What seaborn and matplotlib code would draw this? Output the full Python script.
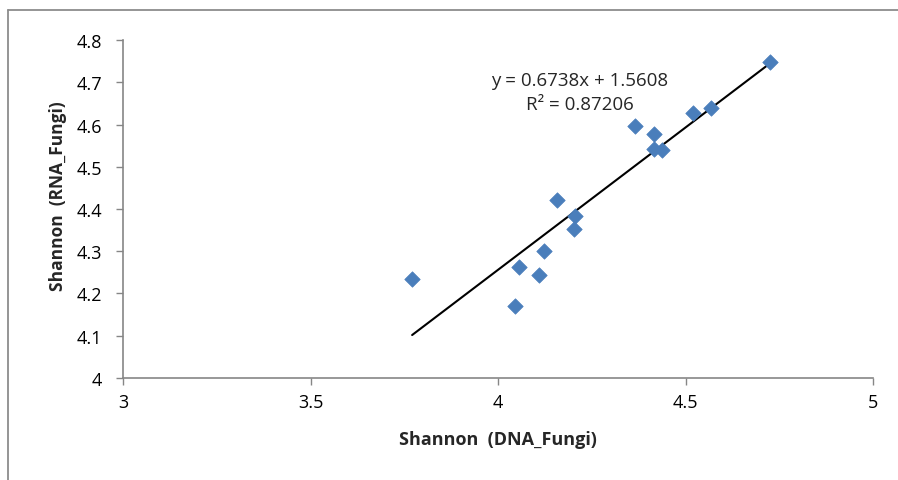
import matplotlib
matplotlib.use("Agg")
import matplotlib.pyplot as plt
import seaborn as sns
import numpy as np
import pandas as pd
from matplotlib.lines import Line2D

# Data
dna_fungi = [4.725, 4.568, 4.520, 4.366, 4.416, 4.416, 4.437, 4.157, 4.205, 4.203,
             4.123, 4.056, 4.109, 4.045, 3.771]
rna_fungi = [4.749, 4.639, 4.627, 4.596, 4.577, 4.542, 4.540, 4.421, 4.383, 4.353,
             4.301, 4.263, 4.244, 4.170, 4.234]
slope = 0.6738
intercept = 1.5608
x_ticks = [3, 3.5, 4, 4.5, 5]
x_tick_labels = ["3", "3.5", "4", "4.5", "5"]
y_ticks = [4.0, 4.1, 4.2, 4.3, 4.4, 4.5, 4.6, 4.7, 4.8]
y_tick_labels = ["4", "4.1", "4.2", "4.3", "4.4", "4.5", "4.6", "4.7", "4.8"]

df = pd.DataFrame({"DNA": dna_fungi, "RNA": rna_fungi})

sns.set_theme(style="white")
plt.rcParams["font.family"] = ["Open Sans", "DejaVu Sans"]

fig = plt.figure(figsize=(8.98, 4.81), dpi=100)
ax = fig.add_axes([123 / 898, 1 - 379 / 481, 750 / 898, 338 / 481])

sns.scatterplot(data=df, x="DNA", y="RNA", ax=ax, marker="D", s=62,
                color="#4A7EBB", edgecolor="#4A7EBB", linewidth=0.5, zorder=3)

xs = np.array([min(dna_fungi), max(dna_fungi)])
ax.plot(xs, slope * xs + intercept, color="black", linewidth=1.5, zorder=2)

ax.set_xlim(3, 5)
ax.set_ylim(4.0, 4.8)
ax.set_xticks(x_ticks)
ax.set_xticklabels(x_tick_labels)
ax.set_yticks(y_ticks)
ax.set_yticklabels(y_tick_labels)
ax.tick_params(axis="both", which="major", labelsize=13, colors="#868686",
               labelcolor="black", length=5, width=1, direction="out",
               bottom=True, left=True)
ax.tick_params(axis="y", pad=10)
ax.tick_params(axis="x", pad=6)
for side in ["top", "right"]:
    ax.spines[side].set_visible(False)
for side in ["left", "bottom"]:
    ax.spines[side].set_color("#868686")
    ax.spines[side].set_linewidth(1.2)

ax.set_xlabel("Shannon  (DNA_Fungi)", fontsize=13, fontweight="bold")
ax.set_ylabel("Shannon  (RNA_Fungi)", fontsize=12.5, fontweight="bold")
ax.xaxis.set_label_coords(0.5, -52 / 338)
ax.yaxis.set_label_coords(-56 / 750, 0.5416)

ax.text(0.6093, 0.8825, "y = 0.6738x + 1.5608", transform=ax.transAxes,
        fontsize=13.5, ha="center", va="center")
ax.text(0.6093, 0.8107, "R² = 0.87206", transform=ax.transAxes,
        fontsize=13.5, ha="center", va="center")

# chart area frame (top and left visible)
fig.add_artist(Line2D([8 / 898, 1.0], [1 - 11 / 481, 1 - 11 / 481],
                      transform=fig.transFigure, color="#8C8C8C", linewidth=1.3))
fig.add_artist(Line2D([8 / 898, 8 / 898], [0, 1 - 11 / 481],
                      transform=fig.transFigure, color="#8C8C8C", linewidth=1.3))

fig.savefig("out.png", dpi=100)
